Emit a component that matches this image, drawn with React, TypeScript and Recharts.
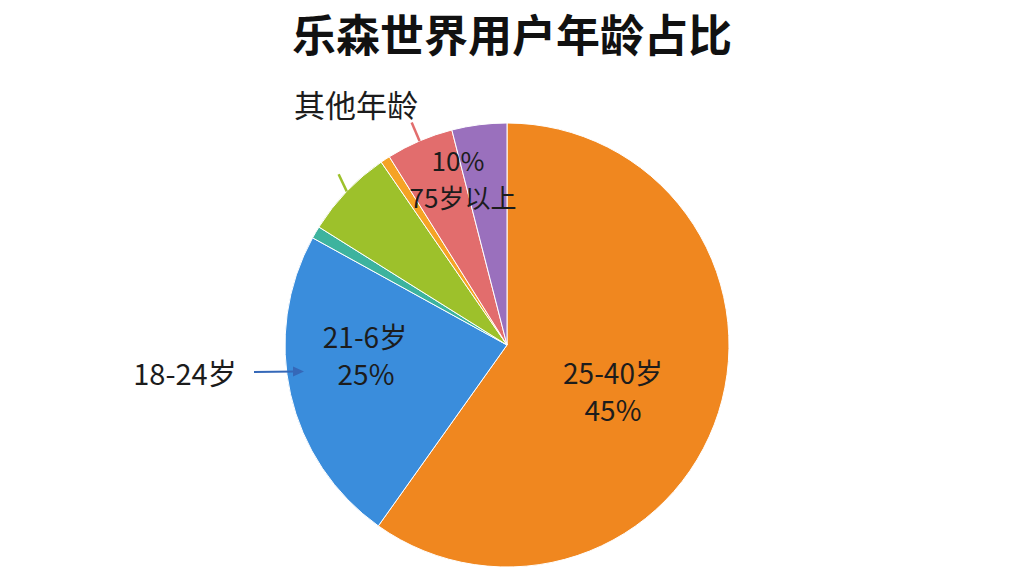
import React from 'react';
import { PieChart, Pie, Cell } from 'recharts';

const title = '乐森世界用户年龄占比';
const sliceNames = ['25-40岁', '21-6岁', '18-24岁', '其他A', '其他B', '其他年龄', '75岁以上'];
const sliceValues = [59.9, 23.2, 0.9, 6.5, 0.7, 4.9, 4.0];
const sliceColors = ['#F0871F', '#3A8DDC', '#3DB39E', '#9DC12B', '#F5A325', '#E26D6D', '#9A70BD'];
const labelPercents = ['45%', '25%', '10%'];
const outsideLabels = ['18-24岁', '其他年龄'];

const data = sliceNames.map((name, i) => ({ name, value: sliceValues[i] }));

const FONT = '"Noto Sans CJK SC", "Noto Sans", sans-serif';
const TXT = '#1c1c1c';
const RAD = Math.PI / 180;

const polar = (cx: number, cy: number, r: number, angle: number) => ({
  x: cx + r * Math.cos(-angle * RAD),
  y: cy + r * Math.sin(-angle * RAD),
});

const T = (props: any) => (
  <text
    fontFamily={FONT}
    fontSize={props.size || 28}
    fill={TXT}
    textAnchor={props.anchor || 'middle'}
    dominantBaseline="central"
    x={props.x}
    y={props.y}
  >
    {props.children}
  </text>
);

const renderLabel = (props: any) => {
  const { cx, cy, midAngle, outerRadius, index } = props;
  if (index === 0) {
    return (
      <g>
        <T x={cx + 106} y={cy + 27}>{sliceNames[0]}</T>
        <T x={cx + 106} y={cy + 64}>{labelPercents[0]}</T>
      </g>
    );
  }
  if (index === 1) {
    return (
      <g>
        <T x={cx - 142} y={cy - 9}>{sliceNames[1]}</T>
        <T x={cx - 141} y={cy + 28}>{labelPercents[1]}</T>
        <T x={cx - 322} y={cy + 27} size={29}>{outsideLabels[0]}</T>
        <line x1={cx - 253} y1={cy + 27} x2={cx - 212} y2={cy + 26.5} stroke="#3568B8" strokeWidth={2} />
        <path d={`M ${cx - 203} ${cy + 26.5} L ${cx - 214} ${cy + 21.5} L ${cx - 214} ${cy + 31.5} Z`} fill="#3568B8" />
      </g>
    );
  }
  if (index === 3) {
    const a = polar(cx, cy, outerRadius, midAngle);
    const d = polar(0, 0, 19, midAngle - 21);
    return <line x1={a.x} y1={a.y} x2={a.x + d.x} y2={a.y + d.y} stroke={sliceColors[3]} strokeWidth={2.5} />;
  }
  if (index === 5) {
    const a = polar(cx, cy, outerRadius, midAngle);
    const b = polar(cx, cy, outerRadius + 20, midAngle);
    return (
      <g>
        <line x1={a.x} y1={a.y} x2={b.x} y2={b.y} stroke={sliceColors[5]} strokeWidth={2.5} />
        <T x={cx - 151} y={cy - 242} size={31}>{outsideLabels[1]}</T>
        <T x={cx - 49} y={cy - 186} size={26}>{labelPercents[2]}</T>
        <T x={cx - 44} y={cy - 149} size={26}>{sliceNames[6]}</T>
      </g>
    );
  }
  return null;
};

export default function App() {
  return (
    <div style={{ position: 'absolute', left: 0, top: 0, width: 1024, height: 576, background: '#fff' }}>
      <PieChart
        width={1024}
        height={576}
        margin={{ top: 0, right: 0, bottom: 0, left: 0 }}
        style={{ position: 'absolute', left: 0, top: 0 }}
      >
        <text
          x={512}
          y={33}
          textAnchor="middle"
          dominantBaseline="central"
          fontFamily={FONT}
          fontWeight={700}
          fontSize={44}
          fill="#111"
        >
          {title}
        </text>
        <Pie
          data={data}
          dataKey="value"
          nameKey="name"
          cx={507}
          cy={345}
          outerRadius={222}
          startAngle={90}
          endAngle={-270}
          stroke="#fff"
          strokeWidth={1}
          label={renderLabel}
          labelLine={false}
          isAnimationActive={false}
        >
          {data.map((d, i) => (
            <Cell key={d.name} fill={sliceColors[i]} />
          ))}
        </Pie>
      </PieChart>
    </div>
  );
}
